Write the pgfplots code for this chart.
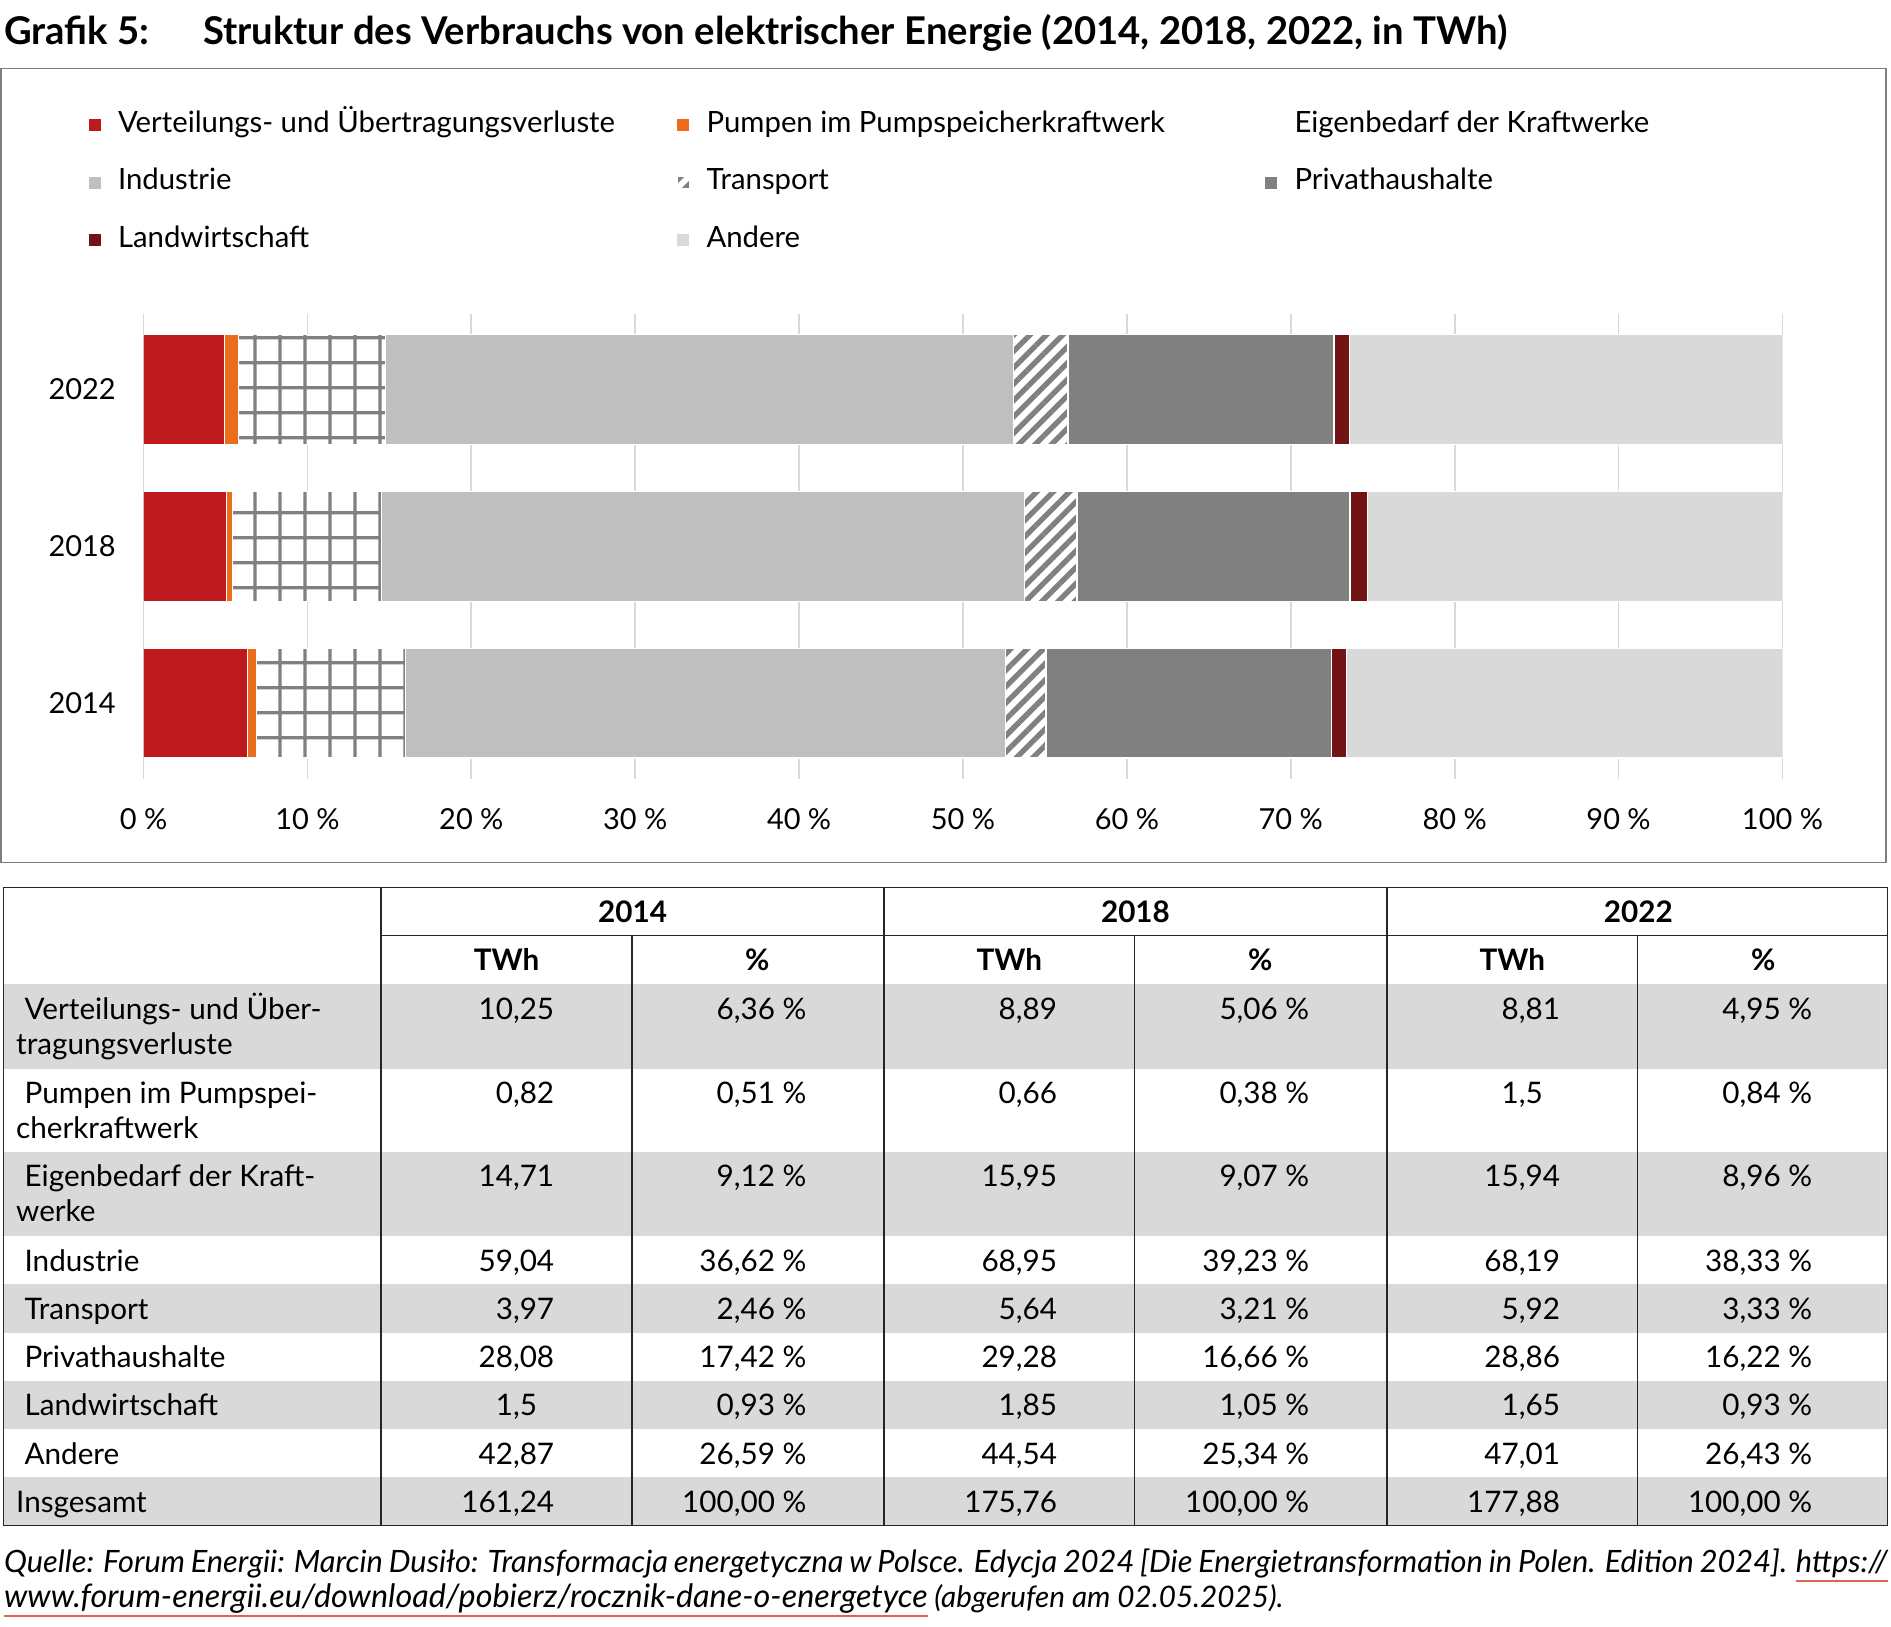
\documentclass[border=0pt]{standalone}
\usepackage{fontspec}
\setmainfont{Lato}
\usepackage{pgfplots}
\pgfplotsset{compat=1.18}
\usepackage{pgfplotstable}
\usetikzlibrary{patterns.meta}

\definecolor{cRed}{HTML}{BE1A1E}
\definecolor{cOrange}{HTML}{EC6E1C}
\definecolor{cInd}{HTML}{BFBFBF}
\definecolor{cPriv}{HTML}{808080}
\definecolor{cLand}{HTML}{731414}
\definecolor{cAnd}{HTML}{D9D9D9}
\definecolor{cPat}{HTML}{808080}
\definecolor{cGrid}{HTML}{D9D9D9}
\definecolor{cRow}{HTML}{D9D9D9}
\definecolor{cBox}{HTML}{7F7F7F}
\definecolor{cLink}{HTML}{DC6450}

% square grid used for "Eigenbedarf der Kraftwerke"
\tikzdeclarepattern{
  name=cgrid, type=uncolored,
  bounding box={(0pt,0pt) and (10.4pt,10.4pt)},
  tile size={(10.4pt,10.4pt)},
  code={
    \pgfsetlinewidth{1.4pt}
    \pgfpathmoveto{\pgfqpoint{-1pt}{4.8pt}}\pgfpathlineto{\pgfqpoint{11.4pt}{4.8pt}}
    \pgfpathmoveto{\pgfqpoint{2.15pt}{-1pt}}\pgfpathlineto{\pgfqpoint{2.15pt}{11.4pt}}
    \pgfusepath{stroke}
  }
}

\newcommand\fs{\fontsize{12}{14.4}\selectfont}
\newcommand\ft{\fontsize{12.3}{14.8}\selectfont}
\newcommand\ulink[1]{\setbox0\hbox{#1}\rlap{\color{cLink}\rule[-3.7pt]{\wd0}{0.7pt}}\box0\relax}
% table cells: decimal-aligned TWh, right-aligned percent
\newcommand\cell[4]{\node[tx,anchor=base west] at (#1,#2) {\llap{#3},#4};}
\newcommand\pct[3]{\node[tx,anchor=base east] at (#1,#2) {#3 \%};}

% shares in percent, y = 0 (2014), 1 (2018), 2 (2022)
\pgfplotstableread{
y verl pump eigen ind trans priv land andere
0 6.36 0.51 9.12 36.62 2.46 17.42 0.93 26.59
1 5.06 0.38 9.07 39.23 3.21 16.66 1.05 25.34
2 4.95 0.84 8.96 38.33 3.33 16.22 0.93 26.43
}\shares

\begin{document}
\begin{tikzpicture}[font=\fs, tx/.style={inner sep=0pt, font=\ft}]
\begin{scope}[x=0.5pt, y=-0.5pt]
\useasboundingbox (0,0) rectangle (1568,1349);
% title
\node[anchor=base west, inner sep=0pt] at (3,36.5) {\fontsize{15.85}{19}\selectfont\bfseries Grafik 5:};
\node[anchor=base west, inner sep=0pt] at (168,36.5) {\fontsize{15.85}{19}\selectfont\bfseries Struktur des Verbrauchs von elektrischer Energie (2014, 2018, 2022, in TWh)};
% chart frame
\draw[cBox, line width=0.6pt] (1,57) rectangle (1564,715);

% table shading
\foreach \a/\b in {816/886, 955/1025, 1065/1105, 1145/1185, 1225/1265}
  \fill[cRow] (3,\a) rectangle (1565,\b);
% table rules
\begin{scope}[black!85, line width=0.5pt]
\draw (3,736) rectangle (1565,1265);
\draw (316,776) -- (1565,776);
\foreach \x in {316,733,1150} \draw (\x,736) -- (\x,1265);
\foreach \x in {524,941,1358} \draw (\x,776) -- (\x,1265);
\end{scope}
% header
\foreach \x/\t in {524.5/2014, 941.5/2018, 1358.5/2022}
  \node[tx, anchor=base] at (\x,765) {\bfseries\t};
\foreach \x in {420,837,1254} \node[tx, anchor=base] at (\x,805) {\bfseries TWh};
\foreach \x in {628,1045,1462} \node[tx, anchor=base] at (\x,805) {\bfseries \%};
% row labels
\node[tx, anchor=base west] at (20,845) {Verteilungs- und Über-};
\node[tx, anchor=base west] at (13,874) {tragungsverluste};
\node[tx, anchor=base west] at (20,915) {Pumpen im Pumpspei-};
\node[tx, anchor=base west] at (13,944) {cherkraftwerk};
\node[tx, anchor=base west] at (20,984) {Eigenbedarf der Kraft-};
\node[tx, anchor=base west] at (13,1013) {werke};
\node[tx, anchor=base west] at (20,1054) {Industrie};
\node[tx, anchor=base west] at (20,1094) {Transport};
\node[tx, anchor=base west] at (20,1134) {Privathaushalte};
\node[tx, anchor=base west] at (20,1174) {Landwirtschaft};
\node[tx, anchor=base west] at (20,1214) {Andere};
\node[tx, anchor=base west] at (13,1254) {Insgesamt};
% values
\cell{425}{845}{10}{25}\pct{669}{845}{6,36}\cell{842}{845}{8}{89}\pct{1086}{845}{5,06}\cell{1259}{845}{8}{81}\pct{1503}{845}{4,95}
\cell{425}{915}{0}{82}\pct{669}{915}{0,51}\cell{842}{915}{0}{66}\pct{1086}{915}{0,38}\cell{1259}{915}{1}{5}\pct{1503}{915}{0,84}
\cell{425}{984}{14}{71}\pct{669}{984}{9,12}\cell{842}{984}{15}{95}\pct{1086}{984}{9,07}\cell{1259}{984}{15}{94}\pct{1503}{984}{8,96}
\cell{425}{1054}{59}{04}\pct{669}{1054}{36,62}\cell{842}{1054}{68}{95}\pct{1086}{1054}{39,23}\cell{1259}{1054}{68}{19}\pct{1503}{1054}{38,33}
\cell{425}{1094}{3}{97}\pct{669}{1094}{2,46}\cell{842}{1094}{5}{64}\pct{1086}{1094}{3,21}\cell{1259}{1094}{5}{92}\pct{1503}{1094}{3,33}
\cell{425}{1134}{28}{08}\pct{669}{1134}{17,42}\cell{842}{1134}{29}{28}\pct{1086}{1134}{16,66}\cell{1259}{1134}{28}{86}\pct{1503}{1134}{16,22}
\cell{425}{1174}{1}{5}\pct{669}{1174}{0,93}\cell{842}{1174}{1}{85}\pct{1086}{1174}{1,05}\cell{1259}{1174}{1}{65}\pct{1503}{1174}{0,93}
\cell{425}{1214}{42}{87}\pct{669}{1214}{26,59}\cell{842}{1214}{44}{54}\pct{1086}{1214}{25,34}\cell{1259}{1214}{47}{01}\pct{1503}{1214}{26,43}
\cell{425}{1254}{161}{24}\pct{669}{1254}{100,00}\cell{842}{1254}{175}{76}\pct{1086}{1254}{100,00}\cell{1259}{1254}{177}{88}\pct{1503}{1254}{100,00}
% source
\node[inner sep=0pt, anchor=base west] at (3,1304) {\fontsize{12.75}{15.3}\selectfont\itshape\makebox[781pt][s]{Quelle: Forum Energii: Marcin Dusiło: Transformacja energetyczna w Polsce. Edycja 2024 [Die Energietransformation in Polen. Edition 2024]. \ulink{https://}}};
\node[inner sep=0pt, anchor=base west] at (3,1333) {\itshape{\fontsize{13.4}{15.7}\selectfont\ulink{www.forum-energii.eu/download/pobierz/rocznik-dane-o-energetyce}} \fontsize{12.3}{15.7}\selectfont(abgerufen am 02.05.2025).};
\end{scope}

\begin{axis}[
  at={(59.5pt,-323pt)}, anchor=south west,
  scale only axis, width=679.5pt, height=193pt,
  xbar stacked, bar width=45.5pt,
  xmin=0, xmax=100, ymin=-0.485, ymax=2.485,
  xtick={0,10,...,100},
  xticklabels={0 \%,10 \%,20 \%,30 \%,40 \%,50 \%,60 \%,70 \%,80 \%,90 \%,100 \%},
  ytick={0,1,2}, yticklabels={2014,2018,2022},
  axis line style={draw=none}, tick style={draw=none},
  xmajorgrids, major grid style={draw=cGrid, line width=0.75pt},
  tick label style={font=\fs},
  xticklabel style={yshift=-8.75pt},
  yticklabel style={xshift=-8pt},
  legend columns=3, legend cell align=left,
  legend style={at={(-0.03385,1.4365)}, anchor=north west, draw=none, fill=none,
    inner sep=0pt, font=\fontsize{12.15}{14.6}\selectfont, row sep=11.75pt,
    nodes={inner sep=0pt, text height=9pt, text depth=3pt}},
  legend image code/.code={\path[#1,draw=none] (0pt,-2.5pt) rectangle (5pt,2.5pt);\path (12pt,0pt);},
]
\addplot[fill=cRed, draw=white, line width=0.5pt] table[x=verl, y=y] {\shares};
\addlegendentry{\makebox[231.5pt][l]{Verteilungs- und Übertragungsverluste}}
\addplot[fill=cOrange, draw=white, line width=0.5pt] table[x=pump, y=y] {\shares};
\addlegendentry{\makebox[231.5pt][l]{Pumpen im Pumpspeicherkraftwerk}}
\addplot[fill=white, draw=white, line width=0.5pt,
  postaction={pattern=cgrid, pattern color=cPat},
  legend image code/.code={\path (12pt,0pt);}] table[x=eigen, y=y] {\shares};
\addlegendentry{\makebox[231.5pt][l]{Eigenbedarf der Kraftwerke}}
\addplot[fill=cInd, draw=white, line width=0.5pt] table[x=ind, y=y] {\shares};
\addlegendentry{Industrie}
\addplot[fill=white, draw=white, line width=0.5pt,
  postaction={pattern={Lines[angle=45,distance=4.8pt,line width=2.2pt]}, pattern color=cPat}] table[x=trans, y=y] {\shares};
\addlegendentry{Transport}
\addplot[fill=cPriv, draw=white, line width=0.5pt] table[x=priv, y=y] {\shares};
\addlegendentry{Privathaushalte}
\addplot[fill=cLand, draw=white, line width=0.5pt] table[x=land, y=y] {\shares};
\addlegendentry{Landwirtschaft}
\addplot[fill=cAnd, draw=white, line width=0.5pt] table[x=andere, y=y] {\shares};
\addlegendentry{Andere}
\end{axis}
\end{tikzpicture}
\end{document}
